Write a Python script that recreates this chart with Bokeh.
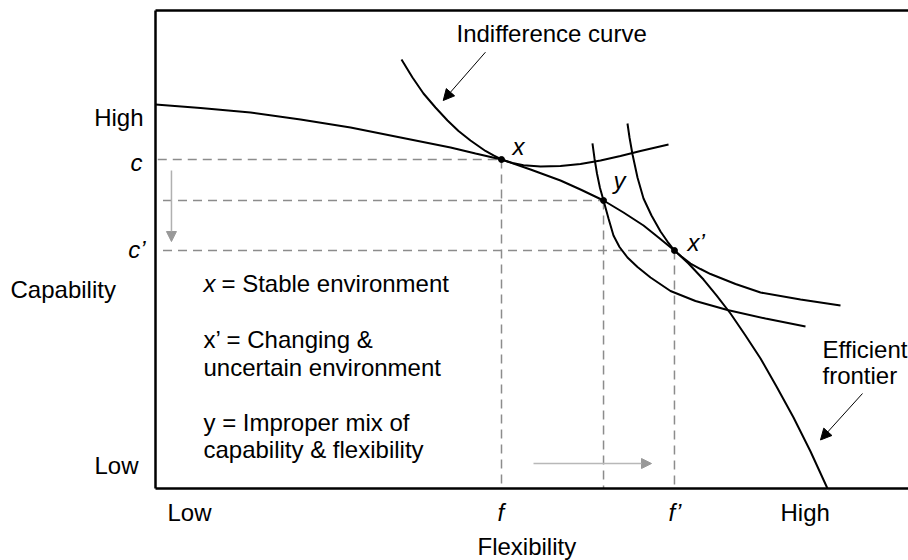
from bokeh.plotting import figure
from bokeh.models import Range1d, Label, Arrow, NormalHead, FixedTicker, LinearAxis
from bokeh.embed import file_html
from bokeh.resources import INLINE

# ---------------- data (Flexibility 0-100, Capability 0-100) ----------------
frontier_flex = [0.0, 5.98, 12.62, 19.26, 25.90, 32.54, 39.18, 42.50, 45.95, 49.80,
                 53.78, 56.44, 59.50, 62.15, 64.81, 66.80, 68.92, 70.78, 72.78, 74.50,
                 76.36, 78.35, 80.35, 82.47, 84.73, 86.99, 89.24]
frontier_cap = [80.33, 79.60, 78.66, 77.20, 75.52, 73.43, 71.34, 70.08, 68.83, 66.74,
                64.44, 62.55, 60.25, 57.74, 55.02, 52.51, 49.79, 47.07, 43.72, 40.38,
                36.61, 32.01, 27.20, 21.34, 14.85, 7.74, 0.0]

# indifference curve through x (stable environment)
ic_x_flex = [32.67, 34.13, 35.59, 37.18, 38.78, 40.24, 41.83, 43.82, 44.89, 45.95,
             47.41, 48.87, 51.13, 53.78, 56.44, 59.10, 61.75, 64.41, 68.13]
ic_x_cap = [89.75, 85.98, 82.64, 79.71, 76.99, 74.79, 72.80, 70.61, 69.67, 68.83,
            68.10, 67.62, 67.36, 67.47, 67.89, 68.62, 69.56, 70.61, 71.97]

# indifference curve through y (improper mix)
ic_y_flex = [58.03, 58.30, 58.63, 59.03, 59.50, 60.16, 60.82, 61.62, 62.68, 64.01,
             65.74, 68.39, 71.71, 75.96, 81.01, 86.32]
ic_y_cap = [72.18, 69.04, 65.90, 62.87, 60.25, 56.49, 52.93, 50.52, 48.33, 46.34,
            44.14, 41.32, 39.23, 37.34, 35.56, 33.89]

# indifference curve through x' (changing environment)
ic_xp_flex = [62.68, 62.95, 63.35, 64.01, 64.81, 65.87, 67.07, 67.99, 68.92, 69.85,
              71.05, 72.38, 73.71, 77.03, 80.35, 85.66, 90.97]
ic_xp_cap = [76.36, 73.43, 69.87, 65.06, 60.67, 57.11, 53.77, 51.67, 49.79, 48.54,
             47.07, 45.92, 44.87, 42.78, 41.00, 39.54, 38.28]

# marked points
point_names = ["x", "y", "x\u2019"]
point_flex = [45.95, 59.50, 68.92]
point_cap = [68.83, 60.25, 49.79]
guide_start = [0.3, 1.0, 1.0]          # where horizontal guides begin

axis_bounds = (0, 100)                 # Low .. High on both scales
y_tick_labels = ["High", "Low"]
x_tick_labels = ["Low", "High"]
legend_lines = ["x\u2019 = Changing &", "uncertain environment",
                "y = Improper mix of", "capability & flexibility"]

# ---------------- figure ----------------
FONT = "Liberation Sans"
FS = "24px"
PXX = 100 / 753.0   # data units per screen px (x)
PXY = 100 / 478.0   # data units per screen px (y)
LIFT = 8 * PXY      # baseline correction for rendered text

p = figure(width=908, height=560,
           x_range=Range1d(-155 * PXX, 100), y_range=Range1d(-72 * PXY, 100 + 10 * PXY),
           output_backend="svg", toolbar_location=None,
           x_axis_location=None, y_axis_location=None,
           min_border=0, min_border_left=0, min_border_right=0,
           min_border_top=0, min_border_bottom=0)
p.grid.visible = False
p.outline_line_color = None


def box_axis(loc, place):
    ax = LinearAxis(fixed_location=loc, bounds=axis_bounds, ticker=FixedTicker(ticks=[]),
                    axis_line_width=2.5, axis_line_color="black",
                    major_tick_out=0, major_tick_in=0, minor_tick_out=0, minor_tick_in=0,
                    major_label_text_font_size="0px")
    p.add_layout(ax, place)


box_axis(axis_bounds[0], "below")
box_axis(axis_bounds[0], "left")
box_axis(axis_bounds[1], "above")

# dashed guides
p.segment(x0=guide_start, y0=point_cap, x1=point_flex, y1=point_cap,
          line_color="#8c8c8c", line_width=1.5, line_dash="9 6")
p.segment(x0=point_flex, y0=point_cap, x1=point_flex, y1=[0, 0, 0],
          line_color="#8c8c8c", line_width=1.5, line_dash="9 6")

# curves
p.line(frontier_flex, frontier_cap, line_color="black", line_width=2)
p.line(ic_x_flex, ic_x_cap, line_color="black", line_width=2)
p.line(ic_y_flex, ic_y_cap, line_color="black", line_width=2)
p.line(ic_xp_flex, ic_xp_cap, line_color="black", line_width=2)
p.scatter(point_flex, point_cap, size=6, color="black")


def lab(text, x, y, align="left", italic=False):
    p.add_layout(Label(x=x, y=y + LIFT, text=text, text_font=FONT, text_font_size=FS,
                       text_font_style="italic" if italic else "normal",
                       text_align=align, text_baseline="alphabetic", text_color="black"))


# point labels
lab(point_names[0], point_flex[0] + 11 * PXX, point_cap[0] + 5 * PXY, italic=True)
lab(point_names[1], point_flex[1] + 10 * PXX, point_cap[1] + 12 * PXY, italic=True)
lab(point_names[2], point_flex[2] + 13 * PXX, point_cap[2], italic=True)

# annotations
lab("Indifference curve", 39.97, 93.51)
lab("Efficient", 88.58, 27.41)
lab("frontier", 88.58, 21.97)
lab("x", 6.37, 41.21, italic=True)
lab("= Stable environment", 8.76, 41.21)
for t, yy in zip(legend_lines, [29.50, 23.64, 12.13, 6.49]):
    lab(t, 6.37, yy)

# axis texts
lab(y_tick_labels[0], -12 * PXX, 75.94, align="right")
lab(y_tick_labels[1], -17 * PXX, 3.14, align="right")
lab("c", -13 * PXX, point_cap[0] - 11 * PXY, align="right", italic=True)
lab("c\u2019", -10 * PXX, point_cap[2] - 7 * PXY, align="right", italic=True)
lab("Capability", -145 * PXX, 39.96)
lab(x_tick_labels[0], 12 * PXX, -32 * PXY)
lab(x_tick_labels[1], 625 * PXX, -32 * PXY)
lab("f", point_flex[0] - 4 * PXX, -32 * PXY, italic=True)
lab("f\u2019", point_flex[2] - 6 * PXX, -32 * PXY, italic=True)
lab("Flexibility", 322 * PXX, -66 * PXY)

# arrows
p.add_layout(Arrow(end=NormalHead(size=11, fill_color="black", line_color="black"),
                   x_start=43.82, y_start=91.28, x_end=38.21, y_end=81.17,
                   line_color="black", line_width=1))
p.add_layout(Arrow(end=NormalHead(size=11, fill_color="black", line_color="black"),
                   x_start=93.89, y_start=19.87, x_end=88.31, y_end=10.15,
                   line_color="black", line_width=1))
p.add_layout(Arrow(end=NormalHead(size=10, fill_color="#999999", line_color="#999999"),
                   x_start=2.12, y_start=66.53, x_end=2.12, y_end=51.67,
                   line_color="#b0b0b0", line_width=1.5))
p.add_layout(Arrow(end=NormalHead(size=10, fill_color="#999999", line_color="#999999"),
                   x_start=50.20, y_start=5.23, x_end=65.87, y_end=5.23,
                   line_color="#b8b8b8", line_width=1.5))

open("out.html", "w").write(file_html(p, INLINE))
